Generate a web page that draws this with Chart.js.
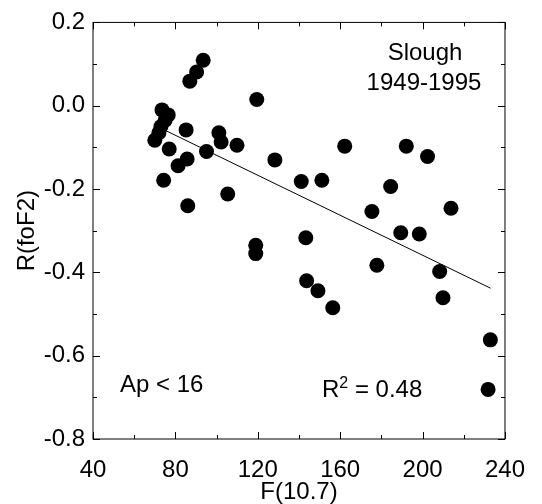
<!DOCTYPE html>
<html>
<head>
<meta charset="utf-8">
<script src="https://cdn.jsdelivr.net/npm/chart.js@4.4.0/dist/chart.umd.min.js"></script>
<style>
  body { margin: 0; background: #fff; }
  canvas { display: block; }
</style>
</head>
<body>
<canvas id="chart" width="542" height="504"></canvas>
<script>
// F(10.7) values and R(foF2) values
const fluxValues = [93.5, 90.3, 87, 73.5, 76.5, 75, 73, 72, 70, 85.2, 101.1, 102.2, 109.9, 119.5,
    77, 95.1, 85.7, 81.3, 128.3, 74.3, 105.4, 86, 119, 119, 141.1, 151.1, 162.2, 192.1,
    202.4, 184.5, 175.4, 213.8, 189.4, 198.4, 143.3, 177.8, 208.3, 143.7, 149.2, 156.4,
    209.9, 232.9, 231.8];
const rValues = [0.109, 0.081, 0.059, -0.010, -0.022, -0.035, -0.050, -0.065, -0.083, -0.058, -0.065, -0.087, -0.095, 0.015,
    -0.104, -0.110, -0.128, -0.144, -0.130, -0.179, -0.212, -0.240, -0.335, -0.355, -0.182, -0.179, -0.097, -0.097,
    -0.122, -0.194, -0.254, -0.246, -0.305, -0.308, -0.317, -0.383, -0.398, -0.420, -0.444, -0.485,
    -0.461, -0.562, -0.681];

// regression line end points
const fitX = [70, 233];
const fitY = [-0.047, -0.438];

const xTicks = [40, 80, 120, 160, 200, 240];
const yTicks = [-0.8, -0.6, -0.4, -0.2, 0.0, 0.2];

const FONT = '"Liberation Sans", Arial, sans-serif';

const points = fluxValues.map((f, i) => ({ x: f, y: rValues[i] }));
const fitLine = fitX.map((f, i) => ({ x: f, y: fitY[i] }));

// frame with inward ticks on all four sides, plus the text labels
const framePlugin = {
    id: 'frame',
    afterDraw(chart) {
        const ctx = chart.ctx;
        const area = chart.chartArea;
        const xs = chart.scales.x;
        const ys = chart.scales.y;
        ctx.save();
        ctx.strokeStyle = '#000';
        ctx.lineWidth = 1;
        ctx.strokeRect(area.left, area.top, area.right - area.left, area.bottom - area.top);

        ctx.beginPath();
        for (let v = 40; v <= 240; v += 20) {
            const px = Math.round(xs.getPixelForValue(v)) + 0.5;
            const len = (v % 40 === 0) ? 7 : 4;
            ctx.moveTo(px, area.bottom);
            ctx.lineTo(px, area.bottom - len);
            ctx.moveTo(px, area.top);
            ctx.lineTo(px, area.top + len);
        }
        for (let k = -8; k <= 2; k++) {
            const py = Math.round(ys.getPixelForValue(k / 10)) + 0.5;
            const len = (k % 2 === 0) ? 7 : 4;
            ctx.moveTo(area.left, py);
            ctx.lineTo(area.left + len, py);
            ctx.moveTo(area.right, py);
            ctx.lineTo(area.right - len, py);
        }
        ctx.stroke();

        ctx.fillStyle = '#000';
        ctx.font = '24px ' + FONT;
        ctx.textBaseline = 'alphabetic';
        ctx.textAlign = 'center';
        ctx.fillText('Slough', 425, 60);
        ctx.fillText('1949-1995', 424, 90);

        ctx.textAlign = 'left';
        ctx.fillText('Ap < 16', 120, 392);

        let x = 322;
        ctx.fillText('R', x, 397);
        x += ctx.measureText('R').width;
        ctx.font = '16px ' + FONT;
        ctx.fillText('2', x, 388);
        x += ctx.measureText('2').width;
        ctx.font = '24px ' + FONT;
        ctx.fillText(' = 0.48', x, 397);
        ctx.restore();
    }
};

new Chart(document.getElementById('chart'), {
    type: 'scatter',
    data: {
        datasets: [{
            data: points,
            backgroundColor: '#000',
            borderWidth: 0,
            pointRadius: 7.5,
            pointHoverRadius: 7.5
        }, {
            type: 'line',
            data: fitLine,
            borderColor: '#000',
            borderWidth: 1,
            pointRadius: 0,
            fill: false
        }]
    },
    options: {
        responsive: false,
        animation: false,
        layout: { padding: { top: 17, right: 29, left: 0, bottom: 0 } },
        plugins: {
            legend: { display: false },
            tooltip: { enabled: false }
        },
        scales: {
            x: {
                type: 'linear',
                min: 40,
                max: 240,
                afterBuildTicks: scale => { scale.ticks = xTicks.map(v => ({ value: v })); },
                afterFit: scale => { scale.height = 65; },
                grid: { display: false, drawTicks: false },
                border: { display: false },
                ticks: {
                    color: '#000',
                    padding: 17,
                    maxRotation: 0,
                    font: { family: FONT, size: 24 }
                },
                title: {
                    display: true,
                    text: 'F(10.7)',
                    color: '#000',
                    font: { family: FONT, size: 24, lineHeight: 1 },
                    padding: { top: 0, bottom: 0 }
                }
            },
            y: {
                type: 'linear',
                min: -0.8,
                max: 0.2,
                afterBuildTicks: scale => { scale.ticks = yTicks.map(v => ({ value: v })); },
                afterFit: scale => { scale.width = 93; },
                grid: { display: false, drawTicks: false },
                border: { display: false },
                ticks: {
                    color: '#000',
                    padding: 8,
                    font: { family: FONT, size: 24 },
                    callback: v => Number(v).toFixed(1)
                },
                title: {
                    display: true,
                    text: 'R(foF2)',
                    color: '#000',
                    font: { family: FONT, size: 24, lineHeight: 1 },
                    padding: { top: 15, bottom: 0 }
                }
            }
        }
    },
    plugins: [framePlugin]
});
</script>
</body>
</html>
